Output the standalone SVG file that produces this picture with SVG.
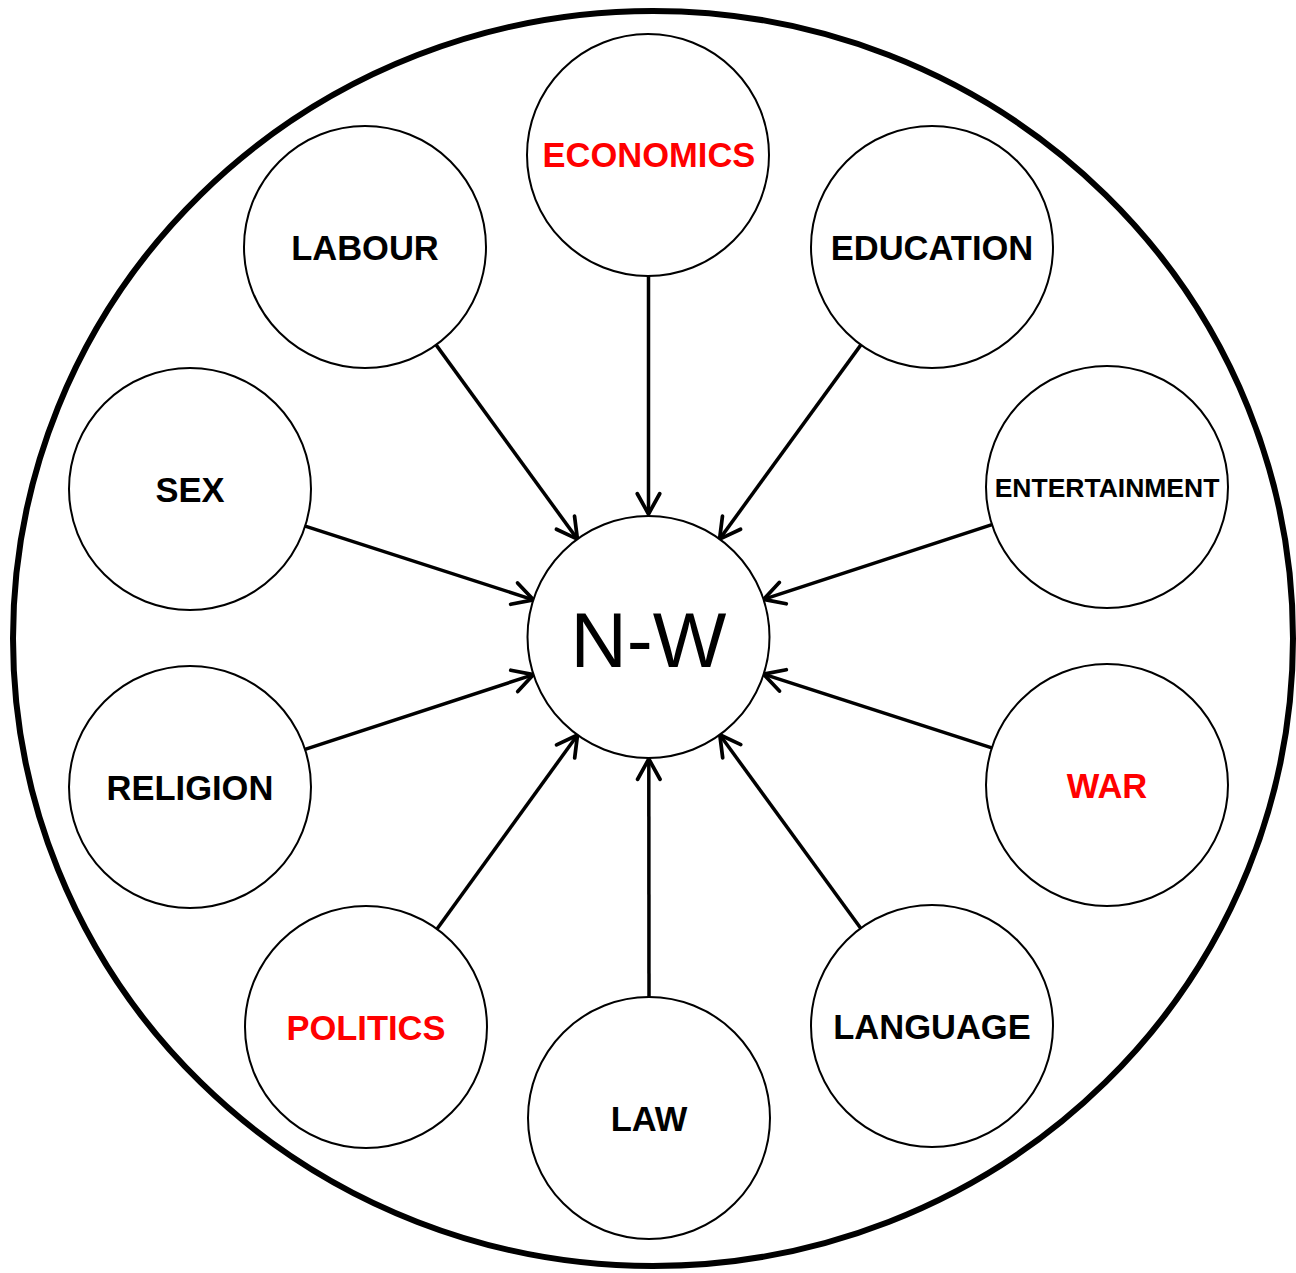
<svg xmlns="http://www.w3.org/2000/svg" width="1296" height="1273" viewBox="0 0 1296 1273">
<style>
.node{fill:#fff;stroke:#000;stroke-width:2}
.lbl{font-family:"Liberation Sans",Arial,sans-serif;font-weight:bold;font-size:34.5px;text-anchor:middle;fill:#000}
.red{fill:#ff0000}
.conn line{stroke:#000;stroke-width:3.5;fill:none;marker-end:url(#arr)}
</style>
<defs>
<marker id="arr" markerUnits="userSpaceOnUse" markerWidth="32" markerHeight="32" viewBox="-24 -15 28 30" refX="0" refY="0" orient="auto">
<path d="M-19,-10.5 L0,0 L-19,10.5" fill="none" stroke="#000" stroke-width="3.5" stroke-linecap="round" stroke-linejoin="round"/>
</marker>
</defs>
<rect width="1296" height="1273" fill="#fff"/>
<ellipse id="outer" cx="653" cy="638.5" rx="640" ry="627.5" fill="none" stroke="#000" stroke-width="6"/>
<g class="conn" id="connectors">
<line x1="648.5" y1="276" x2="648.5" y2="514"/>
<line x1="436.1" y1="344.9" x2="577.4" y2="539.1"/>
<line x1="860.9" y1="344.9" x2="719.6" y2="539.1"/>
<line x1="305.2" y1="526.2" x2="533.4" y2="599.8"/>
<line x1="992" y1="524.6" x2="763.5" y2="599.4"/>
<line x1="305" y1="749.4" x2="533.5" y2="674.6"/>
<line x1="991.8" y1="747.8" x2="763.6" y2="674.2"/>
<line x1="437" y1="929" x2="577.5" y2="735"/>
<line x1="649" y1="997" x2="648.8" y2="759"/>
<line x1="860.7" y1="928.2" x2="719.8" y2="734.8"/>
</g>
<g id="economics"><circle class="node" cx="648" cy="155" r="121"/><text class="lbl red" x="649" y="167">ECONOMICS</text></g>
<g id="labour"><circle class="node" cx="365" cy="247" r="121"/><text class="lbl" x="365" y="260">LABOUR</text></g>
<g id="education"><circle class="node" cx="932" cy="247" r="121"/><text class="lbl" x="932" y="260">EDUCATION</text></g>
<g id="sex"><circle class="node" cx="190" cy="489" r="121"/><text class="lbl" x="190" y="502">SEX</text></g>
<g id="entertainment"><circle class="node" cx="1107" cy="487" r="121"/><text class="lbl" x="1107" y="497" style="font-size:26.5px">ENTERTAINMENT</text></g>
<g id="nw"><circle class="node" cx="648.5" cy="637" r="121"/><text x="648.5" y="667" style="font-family:'Liberation Sans',Arial,sans-serif;font-size:78px;text-anchor:middle;fill:#000">N-W</text></g>
<g id="religion"><circle class="node" cx="190" cy="787" r="121"/><text class="lbl" x="190" y="800">RELIGION</text></g>
<g id="war"><circle class="node" cx="1107" cy="785" r="121"/><text class="lbl red" x="1107" y="798">WAR</text></g>
<g id="politics"><circle class="node" cx="366" cy="1027" r="121"/><text class="lbl red" x="366" y="1040">POLITICS</text></g>
<g id="law"><circle class="node" cx="649" cy="1118" r="121"/><text class="lbl" x="649" y="1131">LAW</text></g>
<g id="language"><circle class="node" cx="932" cy="1026" r="121"/><text class="lbl" x="932" y="1039">LANGUAGE</text></g>
</svg>
